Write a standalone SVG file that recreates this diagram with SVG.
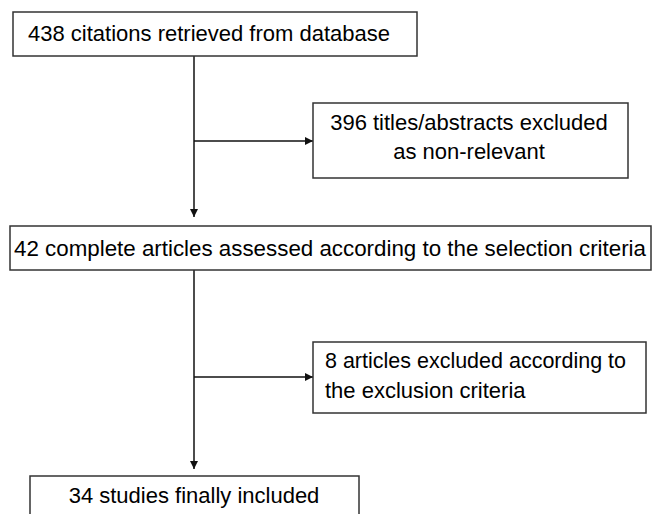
<svg xmlns="http://www.w3.org/2000/svg" width="659" height="514" viewBox="0 0 659 514">
<style>
.box{fill:#fff;stroke:#333;stroke-width:1.5}
.t{font-family:"Liberation Sans",Arial,sans-serif;font-size:22px;fill:#000}
.c{text-anchor:middle}
.ln{stroke:#111;stroke-width:1.5;fill:none}
</style>
<defs>
<marker id="ah" viewBox="0 0 10 10" refX="10" refY="5" markerWidth="8" markerHeight="8" markerUnits="userSpaceOnUse" orient="auto">
<path d="M0,0 L10,5 L0,10 z" fill="#111"/>
</marker>
</defs>
<rect width="659" height="514" fill="#fff"/>
<g id="connectors">
<line class="ln" x1="194" y1="56" x2="194" y2="217" marker-end="url(#ah)"/>
<line class="ln" x1="194" y1="141" x2="313" y2="141" marker-end="url(#ah)"/>
<line class="ln" x1="194" y1="270" x2="194" y2="469" marker-end="url(#ah)"/>
<line class="ln" x1="194" y1="377" x2="313" y2="377" marker-end="url(#ah)"/>
</g>
<g id="n1">
<rect class="box" x="13" y="12" width="404" height="44"/>
<text class="t c" x="209" y="41">438 citations retrieved from database</text>
</g>
<g id="n2">
<rect class="box" x="313" y="103" width="315" height="75"/>
<text class="t c" x="469" y="130">396 titles/abstracts excluded</text>
<text class="t c" x="469" y="159">as non-relevant</text>
</g>
<g id="n3">
<rect class="box" x="10" y="226" width="641" height="44"/>
<text class="t" x="14" y="256" textLength="632" lengthAdjust="spacingAndGlyphs">42 complete articles assessed according to the selection criteria</text>
</g>
<g id="n4">
<rect class="box" x="313" y="342" width="333" height="71"/>
<text class="t" x="325" y="368" textLength="301" lengthAdjust="spacingAndGlyphs">8 articles excluded according to</text>
<text class="t" x="325" y="398">the exclusion criteria</text>
</g>
<g id="n5">
<rect class="box" x="30" y="476" width="329" height="50"/>
<text class="t c" x="194" y="503">34 studies finally included</text>
</g>
</svg>
